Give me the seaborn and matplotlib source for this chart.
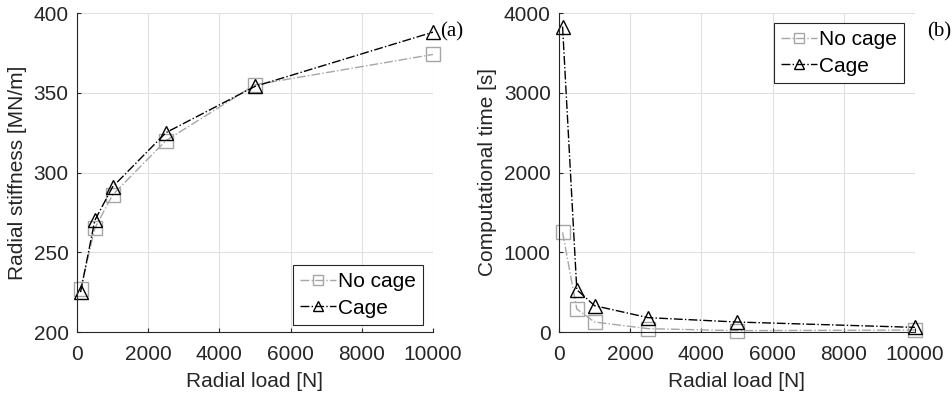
import matplotlib
matplotlib.use("Agg")
import matplotlib.pyplot as plt
import seaborn as sns
import pandas as pd

# Radial load steps [N]
radial_load = [100, 500, 1000, 2500, 5000, 10000]

# Radial stiffness [MN/m]
stiffness_no_cage = [227, 265, 286, 320, 355, 374]
stiffness_cage = [225, 270, 291, 325, 354, 388]

# Computational time [s]
time_no_cage = [1250, 288, 125, 42, 17, 25]
time_cage = [3830, 530, 330, 180, 125, 58]

series_labels = ["No cage", "Cage"]

sns.set_theme(style="whitegrid")
plt.rcParams["font.family"] = ["Liberation Sans", "DejaVu Sans"]

text_col = "#262626"
gray = "#a6a6a6"
fs = 15

fig = plt.figure(figsize=(9.52, 3.98), dpi=100)
ax1 = fig.add_axes([77 / 952, 66 / 398, 356 / 952, 319 / 398])
ax2 = fig.add_axes([559 / 952, 66 / 398, 356 / 952, 319 / 398])


def draw(ax, y_nc, y_c):
    df_nc = pd.DataFrame({"x": radial_load, "y": y_nc})
    df_c = pd.DataFrame({"x": radial_load, "y": y_c})
    sns.lineplot(data=df_nc, x="x", y="y", ax=ax, color=gray, linestyle="-.",
                 linewidth=1.0, marker="s", markersize=10, markerfacecolor="none",
                 markeredgecolor=gray, markeredgewidth=1.0, label=series_labels[0])
    sns.lineplot(data=df_c, x="x", y="y", ax=ax, color="black", linestyle="-.",
                 linewidth=1.0, marker="^", markersize=10, markerfacecolor="none",
                 markeredgecolor="black", markeredgewidth=1.0, label=series_labels[1])
    for ln in ax.lines:
        ln.set_clip_on(False)
    ax.set_facecolor("white")
    ax.grid(True, color="#e0e0e0", linewidth=0.8)
    for s in ["top", "right"]:
        ax.spines[s].set_visible(False)
    for s in ["left", "bottom"]:
        ax.spines[s].set_color(text_col)
        ax.spines[s].set_linewidth(0.8)
    ax.tick_params(axis="both", direction="in", length=3, width=0.8,
                   colors=text_col, labelsize=fs, left=True, bottom=True)
    ax.tick_params(axis="x", pad=9)
    ax.tick_params(axis="y", pad=6)
    ax.set_xlim(0, 10000)
    ax.set_xticks([0, 2000, 4000, 6000, 8000, 10000])
    ax.set_xlabel("Radial load [N]", fontsize=fs, color=text_col, labelpad=6)


def style_legend(leg):
    leg.get_frame().set_linewidth(0.8)
    for t in leg.get_texts():
        t.set_color("black")


legend_kw = dict(fontsize=fs, frameon=True, fancybox=False, edgecolor=text_col,
                 framealpha=1, handlelength=1.7, handletextpad=0.1,
                 borderpad=0.35, labelspacing=0.35, markerscale=0.65,
                 borderaxespad=0.0)

draw(ax1, stiffness_no_cage, stiffness_cage)
ax1.set_ylim(200, 400)
ax1.set_yticks([200, 250, 300, 350, 400])
ax1.set_ylabel("Radial stiffness [MN/m]", fontsize=fs, color=text_col, labelpad=5)
leg1 = ax1.legend(loc="lower right", bbox_to_anchor=(1 - 10 / 356, 7 / 319),
                  **legend_kw)
style_legend(leg1)

draw(ax2, time_no_cage, time_cage)
ax2.set_ylim(0, 4000)
ax2.set_yticks([0, 1000, 2000, 3000, 4000])
ax2.set_ylabel("Computational time [s]", fontsize=fs, color=text_col, labelpad=5)
leg2 = ax2.legend(loc="upper right", bbox_to_anchor=(1 - 11 / 356, 1 - 10 / 319),
                  **legend_kw)
style_legend(leg2)

fig.text(440 / 952, 1 - 32 / 398, "(a)", fontsize=15, family="Liberation Serif",
         va="center", ha="left", color="black")
fig.text(927 / 952, 1 - 32 / 398, "(b)", fontsize=15, family="Liberation Serif",
         va="center", ha="left", color="black")

fig.savefig("out.png", dpi=100)
